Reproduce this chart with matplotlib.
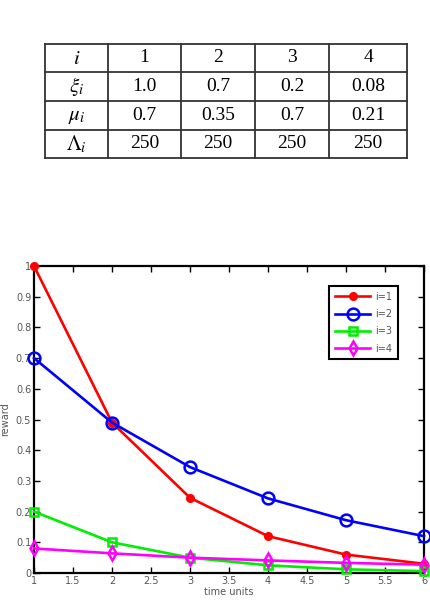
import numpy as np
import matplotlib.pyplot as plt

plt.rcParams['mathtext.fontset'] = 'stix'

# table contents
col_idx = ['1', '2', '3', '4']
xi = ['1.0', '0.7', '0.2', '0.08']
mu = ['0.7', '0.35', '0.7', '0.21']
lam = ['250', '250', '250', '250']
row_names = [r'$i$', r'$\xi_i$', r'$\mu_i$', r'$\Lambda_i$']

# curves
t = [1, 2, 3, 4, 5, 6]
r1 = [1.0, 0.49, 0.245, 0.12, 0.06, 0.03]
r2 = [0.7, 0.49, 0.345, 0.243, 0.172, 0.12]
r3 = [0.2, 0.1, 0.05, 0.025, 0.012, 0.006]
r4 = [0.08, 0.064, 0.05, 0.041, 0.033, 0.027]

W, H = 430, 606
fig = plt.figure(figsize=(W / 100, H / 100), dpi=100)

# --- table drawn in figure pixel coords ---
tab = fig.add_axes([0, 0, 1, 1])
tab.set_xlim(0, W)
tab.set_ylim(H, 0)
tab.axis('off')
xs = [45, 108, 181, 255, 329, 407]
ys = [44, 72, 101, 130, 158]
for x in xs:
    tab.plot([x, x], [ys[0], ys[-1]], color='#333333', lw=1.3)
for y in ys:
    tab.plot([xs[0], xs[-1]], [y, y], color='#333333', lw=1.3)
rows = [col_idx, xi, mu, lam]
for r, (name, vals) in enumerate(zip(row_names, rows)):
    yc = (ys[r] + ys[r + 1]) / 2
    tab.text((xs[0] + xs[1]) / 2, yc, name, ha='center', va='center', fontsize=15)
    for c, v in enumerate(vals):
        tab.text((xs[c + 1] + xs[c + 2]) / 2, yc, v, ha='center', va='center',
                 fontsize=14, family='Liberation Serif')

# --- line plot ---
ax = fig.add_axes([34 / W, 1 - 573 / H, 390 / W, 307 / H])
lw = 1.9
ax.plot(t, r1, color='red', marker='o', ms=5.5, lw=lw, clip_on=False, label='i=1', zorder=3)
ax.plot(t, r2, color='blue', marker='o', ms=8.5, mfc='none', mew=1.8, lw=lw, clip_on=False, label='i=2', zorder=3)
ax.plot(t, r3, color='#00ee00', marker='s', ms=6, mfc='none', mew=1.8, lw=lw, clip_on=False, label='i=3', zorder=3)
ax.plot(t, r4, color='magenta', marker='d', ms=7.5, mfc='none', mew=1.8, lw=lw, clip_on=False, label='i=4', zorder=3)

ax.set_xlim(1, 6)
ax.set_ylim(0, 1)
ax.set_xticks(np.arange(1, 6.01, 0.5))
ax.set_xticklabels(['1', '1.5', '2', '2.5', '3', '3.5', '4', '4.5', '5', '5.5', '6'])
ax.set_yticks(np.arange(0, 1.01, 0.1))
ax.set_yticklabels(['0', '0.1', '0.2', '0.3', '0.4', '0.5', '0.6', '0.7', '0.8', '0.9', '1'])
ax.tick_params(direction='in', top=True, right=True, length=4, width=1, labelsize=7,
               labelcolor='#555555', pad=2)
for s in ax.spines.values():
    s.set_linewidth(1.6)
ax.set_xlabel('time units', fontsize=7, color='#555555', labelpad=1)
ax.set_ylabel('reward', fontsize=7, color='#555555')
ax.yaxis.set_label_coords(-0.062, 0.5)

leg = ax.legend(loc='upper right', bbox_to_anchor=(0.933, 0.935), fontsize=7,
                fancybox=False, framealpha=1, edgecolor='black', handlelength=3.6,
                borderpad=0.6, labelspacing=0.75, handletextpad=0.5, borderaxespad=0)
leg.get_frame().set_linewidth(1.5)
for txt in leg.get_texts():
    txt.set_color('#555555')

fig.savefig('out.png', dpi=100)
